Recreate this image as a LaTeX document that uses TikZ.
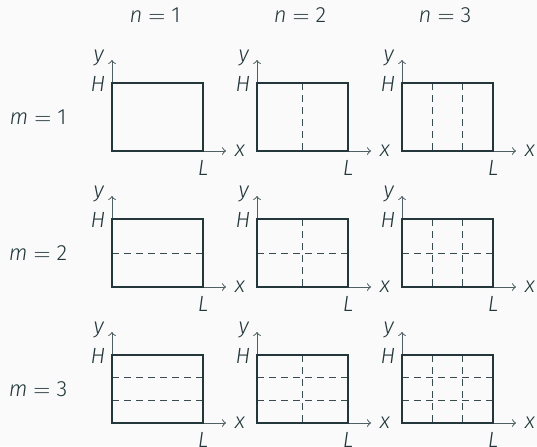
\documentclass[tikz,border=0pt]{standalone}
\usepackage{fontspec}
\setmainfont{Fira Sans}[UprightFont=* Light, ItalicFont=* Light Italic]
\definecolor{mteal}{HTML}{23373B}
\definecolor{mbg}{HTML}{FAFAFA}
\newcommand{\eqsign}{\hspace{3pt}$=$\hspace{3pt}}
\begin{document}
\begin{tikzpicture}[x=0.5pt, y=-0.5pt,
  lbl/.style={text=mteal, inner sep=0pt, font=\fontsize{11}{13}\selectfont},
  plate/.style={draw=mteal, line width=1pt},
  split/.style={draw=mteal!90, line width=0.4pt, dash pattern=on 3.5pt off 2.5pt},
  axis/.style={draw=mteal!80, line width=0.5pt, ->}]
  \fill[mbg] (0,0) rectangle (537,446);
  \useasboundingbox (0,0) rectangle (537,446);
  \foreach \n in {1,2,3}
    \node[lbl] (n\n) at ({155+145*(\n-1)}, 15) {\textit{n}\eqsign\n};
  \foreach \m in {1,2,3}
    \node[lbl] (m\m) at (38, {117+136*(\m-1)}) {\textit{m}\eqsign\m};
  \foreach \m in {1,2,3} {
    \foreach \n in {1,2,3} {
      \begin{scope}[shift={({112+145*(\n-1)}, {83+136*(\m-1)})}]
        \ifnum\n>1
          \foreach \k in {2,...,\n}
            \draw[split] ({91*(\k-1)/\n}, 0) -- ({91*(\k-1)/\n}, 68);
        \fi
        \ifnum\m>1
          \foreach \k in {2,...,\m}
            \draw[split] (0, {68*(\k-1)/\m}) -- (91, {68*(\k-1)/\m});
        \fi
        \coordinate (o) at (0, 68);
        \coordinate (ytip) at (0, -23);
        \coordinate (xtip) at (114, 68);
        \draw[axis] (o) -- (ytip);
        \draw[axis] (o) -- (xtip);
        \draw[plate] (0, 0) rectangle (91, 68);
        \node[lbl] (y\m\n) at (-13, -25) {\textit{y}};
        \node[lbl] (H\m\n) at (-14, 1) {\textit{H}};
        \node[lbl] (x\m\n) at (128, 68) {\textit{x}};
        \node[lbl] (L\m\n) at (91, 85) {\textit{L}};
      \end{scope}
    }
  }
\end{tikzpicture}
\end{document}
